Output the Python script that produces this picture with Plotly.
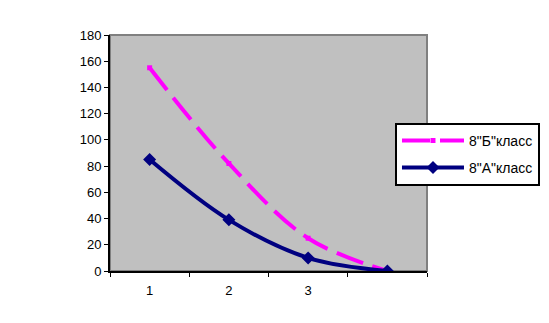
import plotly.graph_objects as go

categories = ["1", "2", "3", "4"]
tick_labels = ["1", "2", "3", ""]
series_b = [155, 82, 25, 0]
series_a = [85, 39, 10, 0]
name_b = '8"Б"класс'
name_a = '8"А"класс'

fig = go.Figure()
fig.add_trace(go.Scatter(
    x=categories, y=series_b, name=name_b, mode="lines+markers", legendgroup="b",
    line=dict(color="#FF00FF", width=4, dash="28px,10px", shape="spline"),
    marker=dict(symbol="square", size=5, color="#FF00FF"),
))
fig.add_trace(go.Scatter(
    x=categories, y=series_a, name=name_a, mode="lines+markers", legendgroup="a",
    line=dict(color="#000080", width=4, shape="spline"),
    marker=dict(symbol="diamond", size=10, color="#000080"),
))

fig.update_layout(
    width=549, height=323,
    margin=dict(l=110, r=122, t=35, b=52, autoexpand=False),
    paper_bgcolor="white", plot_bgcolor="#C0C0C0",
    font=dict(family="Liberation Sans, Arial", size=13, color="black"),
    showlegend=True,
    legend=dict(x=0.899, y=0.628, xanchor="left", yanchor="top",
                bgcolor="white", bordercolor="black", borderwidth=2,
                font=dict(size=14), itemwidth=62, tracegroupgap=6,
                traceorder="grouped"),
    shapes=[dict(type="rect", xref="paper", yref="paper", x0=0, y0=0, x1=1, y1=1,
                 line=dict(color="#808080", width=2), layer="below")],
)
fig.update_xaxes(type="category", tickmode="array", tickvals=categories, ticktext=tick_labels,
                 tickson="boundaries", ticks="outside", ticklen=4, tickcolor="black",
                 showline=True, linecolor="black", linewidth=2, showgrid=False,
                 range=[-0.5, 3.5], zeroline=False, ticklabelstandoff=6)
fig.update_yaxes(range=[0, 180], dtick=20, ticks="outside", ticklen=4, tickcolor="black",
                 showline=True, linecolor="black", linewidth=2, showgrid=False,
                 zeroline=False)

fig.write_html("out.html")
